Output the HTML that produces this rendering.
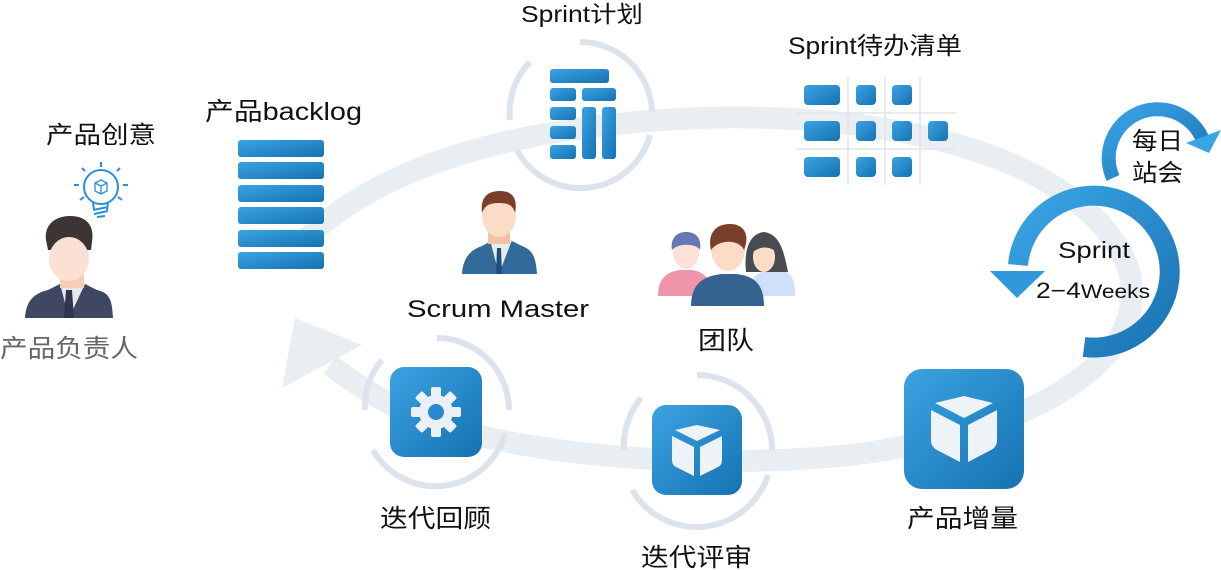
<!DOCTYPE html>
<html><head><meta charset="utf-8"><style>
html,body{margin:0;padding:0;background:#fff;}
svg{display:block;}
text{font-family:"Liberation Sans","Noto Sans CJK SC",sans-serif;fill:#111;}
</style></head><body>
<svg width="1221" height="570" viewBox="0 0 1221 570" xmlns="http://www.w3.org/2000/svg">
<defs>
<linearGradient id="bg" x1="0" y1="0" x2="1" y2="1"><stop offset="0" stop-color="#3ba3e3"/><stop offset="1" stop-color="#1672b0"/></linearGradient>
<linearGradient id="ag" x1="0" y1="0" x2="1" y2="1"><stop offset="0" stop-color="#3aa5e6"/><stop offset="1" stop-color="#1a73b2"/></linearGradient>
</defs>
<path d="M305,240 C380,165 520,125 700,118 C880,112 1060,150 1120,250 C1170,340 1060,430 850,455 C700,470 540,455 450,428 C400,412 370,395 330,365" fill="none" stroke="#e9eef3" stroke-width="22"/>
<polygon points="295,318 362,345 282,388" fill="#e9eef3"/>
<g fill="none" stroke="#dde3eb" stroke-width="6">
<path d="M580,42 A72,72 0 0 1 652,112"/>
<path d="M650,135 A72,72 0 0 1 517,150"/>
<path d="M510,120 A72,72 0 0 1 530,62"/>
<path d="M437,338 A72,72 0 0 1 509,410"/>
<path d="M505,433 A72,72 0 0 1 373,450"/>
<path d="M365,410 A72,72 0 0 1 382,360"/>
<path d="M697,375 A75,75 0 0 1 772,450"/>
<path d="M768,475 A75,75 0 0 1 632,490"/>
<path d="M624,450 A75,75 0 0 1 641,398"/>
</g>
<text x="46" y="143" font-size="24" textLength="110" lengthAdjust="spacingAndGlyphs">产品创意</text>
<text x="205" y="120" font-size="25" textLength="157" lengthAdjust="spacingAndGlyphs">产品backlog</text>
<text x="521" y="22" font-size="23" textLength="122" lengthAdjust="spacingAndGlyphs">Sprint计划</text>
<text x="788" y="54" font-size="24" textLength="174" lengthAdjust="spacingAndGlyphs">Sprint待办清单</text>
<text x="0" y="357" font-size="25" textLength="138" lengthAdjust="spacingAndGlyphs" style="fill:#666">产品负责人</text>
<text x="407" y="317" font-size="24" textLength="182" lengthAdjust="spacingAndGlyphs">Scrum Master</text>
<text x="698" y="349" font-size="25" textLength="56" lengthAdjust="spacingAndGlyphs">团队</text>
<text x="380" y="527" font-size="25" textLength="111" lengthAdjust="spacingAndGlyphs">迭代回顾</text>
<text x="641" y="566" font-size="25" textLength="111" lengthAdjust="spacingAndGlyphs">迭代评审</text>
<text x="907" y="527" font-size="25" textLength="111" lengthAdjust="spacingAndGlyphs">产品增量</text>
<text x="1132" y="149" font-size="24" textLength="51" lengthAdjust="spacingAndGlyphs">每日</text>
<text x="1132" y="181" font-size="24" textLength="51" lengthAdjust="spacingAndGlyphs">站会</text>
<text x="1058" y="258" font-size="23" textLength="72" lengthAdjust="spacingAndGlyphs">Sprint</text>
<text x="1036" y="298" font-size="22" textLength="114" lengthAdjust="spacingAndGlyphs">2−4<tspan font-size="19">Weeks</tspan></text>
<g fill="none" stroke="#2a8fd6" stroke-width="2">
<circle cx="101" cy="187" r="17"/>
<path d="M93,202 L94,210 M108,202 L107,210 M93,210 L108,207 M94,214 L108,211 M97,217 L105,216"/>
<path d="M101,162 V167 M82,168 L85,171 M120,168 L117,171 M74,185 H79 M123,185 H128 M80,200 L84,197 M122,200 L118,197"/>
<path d="M95,183 L101,180 L107,183 L107,191 L101,194 L95,191 Z M95,183 L101,186 L107,183 M101,186 V194" stroke-width="1.3"/>
</g>
<path d="M25,318 C26,300 35,293 48,290 L60,284 L85,284 L97,290 C110,293 112,300 113,318 Z" fill="#3f4763"/>
<path d="M60,284 L69,318 L85,284 Z" fill="#e6e8ec"/>
<path d="M66,290 L72,290 L74,318 L64,318 Z" fill="#2f3550"/>
<rect x="60" y="268" width="24" height="20" fill="#f7cdb5"/>
<path d="M46,240 C44,224 56,216 70,216 C85,216 95,224 92,242 L91,250 L48,250 Z" fill="#3d3533"/>
<ellipse cx="69" cy="259" rx="20" ry="22" fill="#fbe1d3"/>
<g fill="url(#bg)">
<rect x="238" y="140" width="86" height="17" rx="3"/>
<rect x="238" y="162" width="86" height="17" rx="3"/>
<rect x="238" y="185" width="86" height="17" rx="3"/>
<rect x="238" y="207" width="86" height="17" rx="3"/>
<rect x="238" y="230" width="86" height="17" rx="3"/>
<rect x="238" y="252" width="86" height="17" rx="3"/>
</g>
<g fill="url(#bg)">
<rect x="550" y="69" width="59" height="14" rx="3"/>
<rect x="550" y="88" width="26" height="13" rx="3"/>
<rect x="550" y="107" width="26" height="13" rx="3"/>
<rect x="550" y="126" width="26" height="13" rx="3"/>
<rect x="550" y="145" width="26" height="14" rx="3"/>
<rect x="582" y="88" width="34" height="13" rx="3"/>
<rect x="582" y="107" width="14" height="52" rx="3"/>
<rect x="602" y="107" width="14" height="52" rx="3"/>
</g>
<g stroke="#e2e4e6" stroke-width="1.5">
<path d="M848,77 V185 M885,77 V185 M920,77 V185 M796,113 H956 M796,149 H956"/>
</g>
<g fill="url(#bg)">
<rect x="804" y="85" width="36" height="20" rx="4"/><rect x="856" y="85" width="20" height="20" rx="4"/><rect x="892" y="85" width="20" height="20" rx="4"/>
<rect x="804" y="121" width="36" height="20" rx="4"/><rect x="856" y="121" width="20" height="20" rx="4"/><rect x="892" y="121" width="20" height="20" rx="4"/><rect x="928" y="121" width="20" height="20" rx="4"/>
<rect x="804" y="157" width="36" height="20" rx="4"/><rect x="856" y="157" width="20" height="20" rx="4"/><rect x="892" y="157" width="20" height="20" rx="4"/>
</g>
<path d="M1113,178 A46,46 0 1 1 1202,138" fill="none" stroke="url(#ag)" stroke-width="14"/>
<polygon points="1186,143 1221,130 1209,153" fill="#3aa5e6"/>
<path d="M1084,347 A76,76 0 1 0 1018,265" fill="none" stroke="url(#ag)" stroke-width="20"/>
<polygon points="990,271 1045,271 1017,298" fill="#3298dc"/>
<path d="M462,274 C463,258 470,250 482,246 L493,240 L510,240 L522,246 C533,250 536,258 537,274 Z" fill="#326a9a"/>
<path d="M490,240 L499,274 L512,240 Z" fill="#e9eaec"/>
<path d="M497,248 L501,248 L502,274 L496,274 Z" fill="#1e4f7c"/>
<rect x="488" y="228" width="22" height="16" fill="#f3c2a4"/>
<ellipse cx="499" cy="216" rx="17" ry="21" fill="#fcdcc6"/>
<path d="M482,213 C480,197 488,191 500,191 C512,191 518,198 515,213 C513,205 508,203 499,203 C490,203 485,205 482,213 Z" fill="#7a3f2a"/>
<path d="M658,296 C658,280 665,272 680,270 L692,270 C705,272 712,280 712,296 Z" fill="#ee94ab"/>
<ellipse cx="686" cy="252" rx="13" ry="17" fill="#fde1d6"/>
<path d="M672,250 C670,237 678,232 686,232 C695,232 702,237 700,250 C696,243 678,243 672,250 Z" fill="#6678b4"/>
<path d="M748,296 C748,280 755,272 770,270 L780,270 C792,272 795,280 795,296 Z" fill="#cfe0fa"/>
<path d="M746,272 C744,252 748,234 764,232 C780,234 784,252 788,272 Z" fill="#484b50"/>
<ellipse cx="764" cy="257" rx="11" ry="15" fill="#fcdcc6"/>
<path d="M753,252 C753,242 758,238 764,238 C770,238 776,242 776,252 C770,246 760,246 753,252 Z" fill="#484b50"/>
<path d="M691,306 C691,285 702,276 722,274 L736,274 C755,276 764,285 764,306 Z" fill="#35638f"/>
<ellipse cx="728" cy="249" rx="17" ry="22" fill="#fcdcc6"/>
<path d="M711,250 C707,232 717,224 730,224 C745,224 750,236 744,250 C740,240 720,238 711,250 Z" fill="#7a3f2a"/>
<rect x="390" y="367" width="92" height="90" rx="14" fill="url(#bg)"/>
<g transform="translate(436,412)" fill="#eaf0f6">
<circle r="17"/>
<g><rect x="-5" y="-25" width="10" height="12" rx="2"/><rect x="-5" y="13" width="10" height="12" rx="2"/><rect x="-25" y="-5" width="12" height="10" rx="2"/><rect x="13" y="-5" width="12" height="10" rx="2"/></g>
<g transform="rotate(45)"><rect x="-5" y="-25" width="10" height="12" rx="2"/><rect x="-5" y="13" width="10" height="12" rx="2"/><rect x="-25" y="-5" width="12" height="10" rx="2"/><rect x="13" y="-5" width="12" height="10" rx="2"/></g>
<circle r="8" fill="#2a88cc"/>
</g>
<rect x="652" y="405" width="90" height="90" rx="14" fill="url(#bg)"/>
<g fill="#eef3f8">
<path d="M675,430 L697,425 L720,430 L697,441 Z"/>
<path d="M672,436 L694,447 L694,476 L676,467 Q672,465 672,460 Z"/>
<path d="M722,436 L700,447 L700,476 L718,467 Q722,465 722,460 Z"/>
</g>
<rect x="904" y="369" width="120" height="120" rx="18" fill="url(#bg)"/>
<g fill="#eef3f8">
<path d="M935,403 L964,396 L993,403 L964,418 Z"/>
<path d="M931,410 L960,425 L960,462 L937,450 Q931,447 931,440 Z"/>
<path d="M997,410 L968,425 L968,462 L991,450 Q997,447 997,440 Z"/>
</g>
</svg>
</body></html>
